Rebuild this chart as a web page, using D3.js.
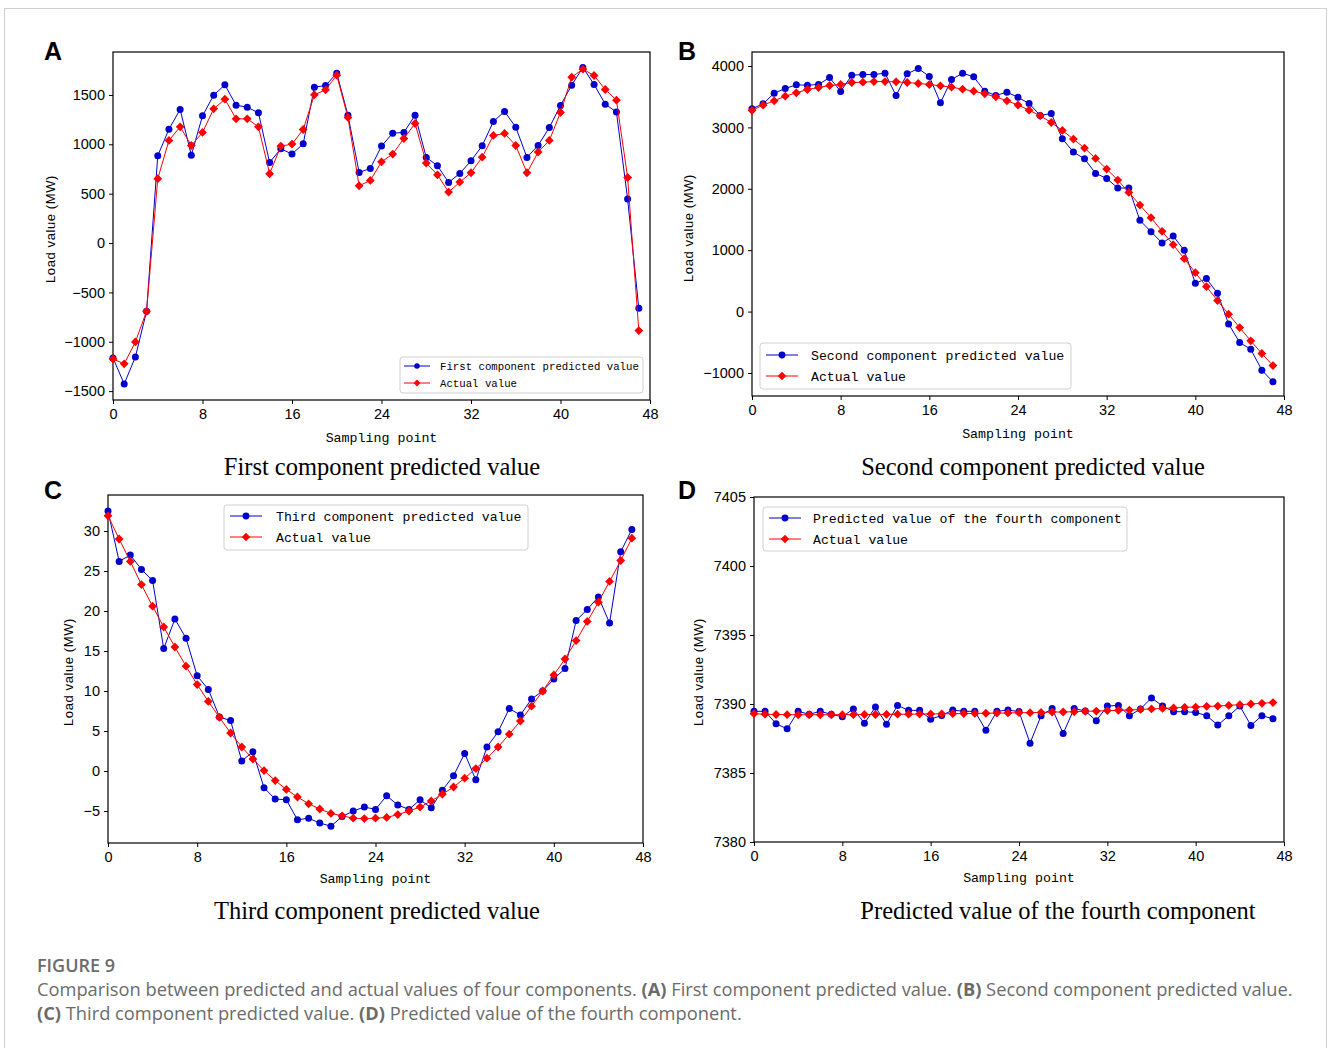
<!DOCTYPE html>
<html>
<head>
<meta charset="utf-8">
<script src="https://cdn.jsdelivr.net/npm/d3@7"></script>
<style>
  body { margin: 0; background: #fff; }
</style>
</head>
<body>
<svg id="fig" width="1328" height="1048"></svg>
<script>
// ---- data (48 sampling points each) ----
var predA = [-1165, -1427, -1154, -691, 884, 1153, 1353, 890, 1288, 1498, 1602, 1396, 1376, 1319, 816, 955,
             901, 1005, 1579, 1595, 1720, 1295, 715, 756, 982, 1113, 1120, 1295, 867, 783, 614, 705,
             833, 985, 1231, 1332, 1174, 867, 988, 1170, 1393, 1599, 1778, 1606, 1407, 1326, 445, -661];
var actualA = [-1174, -1224, -1002, -691, 651, 1039, 1177, 988, 1120, 1359, 1457, 1258, 1258, 1177, 702, 982,
               1002, 1150, 1501, 1552, 1700, 1272, 580, 634, 823, 901, 1059, 1211, 810, 691, 516, 617,
               712, 870, 1090, 1110, 988, 712, 921, 1039, 1322, 1680, 1761, 1697, 1555, 1447, 664, -887];

var predB = [3303, 3384, 3557, 3633, 3693, 3688, 3699, 3812, 3585, 3850, 3861, 3861, 3883, 3520, 3872, 3959,
             3829, 3400, 3780, 3883, 3823, 3590, 3520, 3574, 3490, 3389, 3194, 3227, 2815, 2598, 2489, 2251,
             2169, 2012, 2012, 1486, 1302, 1117, 1231, 998, 461, 537, 298, -201, -504, -613, -954, -1144];
var actualB = [3276, 3362, 3433, 3509, 3563, 3617, 3650, 3682, 3699, 3731, 3737, 3747, 3747, 3742, 3731, 3715,
               3699, 3677, 3655, 3623, 3590, 3547, 3498, 3433, 3365, 3281, 3189, 3080, 2950, 2809, 2663, 2495,
               2321, 2142, 1941, 1735, 1529, 1307, 1090, 862, 634, 407, 179, -43, -260, -477, -683, -879];

var predC = [32.5, 26.2, 27.0, 25.2, 23.8, 15.3, 19.0, 16.6, 11.9, 10.2, 6.75, 6.3, 1.25, 2.4, -2.1, -3.5,
             -3.6, -6.1, -5.9, -6.5, -6.9, -5.7, -5.0, -4.5, -4.8, -3.1, -4.25, -4.8, -3.6, -4.6, -2.4, -0.6,
             2.2, -1.1, 3.0, 4.9, 7.8, 7.0, 9.0, 10.0, 11.5, 12.8, 18.8, 20.2, 21.75, 18.5, 27.4, 30.2];
var actualC = [31.9, 29.0, 26.2, 23.3, 20.6, 18.0, 15.5, 13.1, 10.8, 8.7, 6.7, 4.75, 3.0, 1.5, 0.05, -1.2,
               -2.3, -3.25, -4.1, -4.75, -5.3, -5.6, -5.9, -5.95, -5.9, -5.8, -5.45, -5.0, -4.5, -3.75, -2.9, -2.0,
               -0.9, 0.3, 1.6, 3.0, 4.6, 6.25, 8.1, 10.0, 12.0, 14.0, 16.3, 18.7, 21.1, 23.7, 26.3, 29.1];

var predD = [7389.47, 7389.47, 7388.57, 7388.20, 7389.47, 7389.25, 7389.47, 7389.25, 7389.08, 7389.64, 7388.60, 7389.78,
             7388.54, 7389.90, 7389.54, 7389.54, 7388.90, 7389.17, 7389.56, 7389.47, 7389.47, 7388.10, 7389.47, 7389.56,
             7389.45, 7387.16, 7389.15, 7389.68, 7387.86, 7389.68, 7389.49, 7388.79, 7389.85, 7389.90, 7389.15, 7389.64,
             7390.44, 7389.85, 7389.44, 7389.44, 7389.39, 7389.15, 7388.47, 7389.15, 7389.85, 7388.45, 7389.15, 7388.93];
var actualD = [7389.30, 7389.26, 7389.24, 7389.23, 7389.22, 7389.22, 7389.22, 7389.22, 7389.23, 7389.23, 7389.24, 7389.24,
               7389.25, 7389.26, 7389.26, 7389.27, 7389.28, 7389.29, 7389.30, 7389.31, 7389.32, 7389.33, 7389.34, 7389.35,
               7389.37, 7389.37, 7389.39, 7389.42, 7389.42, 7389.44, 7389.47, 7389.49, 7389.52, 7389.54, 7389.56, 7389.61,
               7389.64, 7389.68, 7389.71, 7389.76, 7389.78, 7389.83, 7389.85, 7389.90, 7389.95, 7390.00, 7390.05, 7390.10];

var xTicks = [0, 8, 16, 24, 32, 40, 48];
var yTicksA = [-1500, -1000, -500, 0, 500, 1000, 1500];
var yTicksB = [-1000, 0, 1000, 2000, 3000, 4000];
var yTicksC = [-5, 0, 5, 10, 15, 20, 25, 30];
var yTicksD = [7380, 7385, 7390, 7395, 7400, 7405];

var captionHead = 'FIGURE 9';

var blue = '#0000cc', red = '#ff0000';
var monoFont = '"Liberation Mono", "DejaVu Sans Mono", monospace';
var sansFont = '"Liberation Sans", Arial, sans-serif';
var serifFont = '"Liberation Serif", "Times New Roman", serif';

var svg = d3.select('#fig');

// light frame around the figure
svg.append('rect')
    .attr('x', 4.5).attr('y', 8.5)
    .attr('width', 1322).attr('height', 1045)
    .attr('fill', 'none')
    .attr('stroke', '#cfcfcf');

function diamond(s) {
    return 'M0,' + (-s) + 'L' + s + ',0L0,' + s + 'L' + (-s) + ',0Z';
}

var tickFmt = d3.format('d');

function drawPanel(p) {
    var g = svg.append('g');
    var x = d3.scaleLinear().domain([0, 48]).range([p.left, p.right]);
    var y = d3.scaleLinear().domain(p.yDomain).range([p.bottom, p.top]);

    // axes
    var xa = g.append('g')
        .attr('transform', 'translate(0,' + p.bottom + ')')
        .call(d3.axisBottom(x).tickValues(xTicks).tickFormat(tickFmt)
            .tickSize(4).tickSizeOuter(0).tickPadding(5));
    var ya = g.append('g')
        .attr('transform', 'translate(' + p.left + ',0)')
        .call(d3.axisLeft(y).tickValues(p.yTicks).tickFormat(tickFmt)
            .tickSize(4).tickSizeOuter(0).tickPadding(4));
    [xa, ya].forEach(function(a) {
        a.select('.domain').remove();
        a.selectAll('text').style('font-family', sansFont).style('font-size', '14.5px').attr('fill', '#000');
        a.selectAll('line').attr('stroke', '#000');
    });

    // box
    g.append('rect')
        .attr('x', p.left).attr('y', p.top)
        .attr('width', p.right - p.left).attr('height', p.bottom - p.top)
        .attr('fill', 'none').attr('stroke', '#000').attr('stroke-width', 1.2);

    var line = d3.line().x(function(d, i) { return x(i); }).y(function(d) { return y(d); });

    g.append('path').attr('d', line(p.pred))
        .attr('fill', 'none').attr('stroke', blue).attr('stroke-width', 1);
    g.selectAll('.pt-pred').data(p.pred).enter().append('circle')
        .attr('cx', function(d, i) { return x(i); })
        .attr('cy', function(d) { return y(d); })
        .attr('r', 3.5).attr('fill', blue);

    g.append('path').attr('d', line(p.actual))
        .attr('fill', 'none').attr('stroke', red).attr('stroke-width', 1);
    g.selectAll('.pt-act').data(p.actual).enter().append('path')
        .attr('d', diamond(4.4))
        .attr('transform', function(d, i) { return 'translate(' + x(i) + ',' + y(d) + ')'; })
        .attr('fill', red);

    // legend
    var L = p.legend;
    var lg = g.append('g');
    lg.append('rect')
        .attr('x', L.x).attr('y', L.y).attr('width', L.w).attr('height', L.h)
        .attr('rx', 3).attr('fill', '#fff').attr('fill-opacity', 0.85)
        .attr('stroke', '#d0d0d0');
    [[p.predName, blue, 'c'], ['Actual value', red, 'd']].forEach(function(e, i) {
        var ry = L.rows[i];
        lg.append('line')
            .attr('x1', L.x + L.pad).attr('x2', L.x + L.pad + L.handle)
            .attr('y1', ry).attr('y2', ry)
            .attr('stroke', e[1]).attr('stroke-width', 1);
        if (e[2] === 'c') {
            lg.append('circle').attr('cx', L.x + L.pad + L.handle / 2).attr('cy', ry)
                .attr('r', L.fs * 0.26).attr('fill', e[1]);
        } else {
            lg.append('path').attr('d', diamond(L.fs * 0.32))
                .attr('transform', 'translate(' + (L.x + L.pad + L.handle / 2) + ',' + ry + ')')
                .attr('fill', e[1]);
        }
        lg.append('text')
            .attr('x', L.textX).attr('y', ry)
            .attr('dy', '0.35em')
            .style('font-family', monoFont).style('font-size', L.fs + 'px')
            .text(e[0]);
    });

    // labels
    g.append('text')
        .attr('x', (p.left + p.right) / 2).attr('y', p.xLabelY)
        .attr('text-anchor', 'middle').attr('dy', '0.35em')
        .style('font-family', monoFont).style('font-size', '13.3px')
        .text('Sampling point');
    g.append('text')
        .attr('transform', 'translate(' + p.yLabelX + ',' + p.yLabelMid + ') rotate(-90)')
        .attr('text-anchor', 'middle').attr('dy', '0.35em')
        .style('font-family', sansFont).style('font-size', '13px')
        .style('letter-spacing', '0.6px')
        .text('Load value (MW)');
    g.append('text')
        .attr('x', p.letterX).attr('y', p.letterY)
        .style('font-family', sansFont).style('font-size', '25px').style('font-weight', 'bold')
        .text(p.letter);
    g.append('text')
        .attr('x', p.titleX).attr('y', p.titleY)
        .attr('text-anchor', 'middle')
        .style('font-family', serifFont).style('font-size', '24.5px')
        .text(p.title);
}

drawPanel({
    pred: predA, actual: actualA, predName: 'First component predicted value',
    left: 113, right: 650, top: 52, bottom: 400,
    yDomain: [-1590, 1935], yTicks: yTicksA,
    legend: { x: 400, y: 357, w: 243, h: 36, rows: [366, 383], fs: 10.7, pad: 4, handle: 26, textX: 440 },
    xLabelY: 437, yLabelX: 50, yLabelMid: 229,
    letter: 'A', letterX: 44, letterY: 60,
    title: 'First component predicted value', titleX: 382, titleY: 475
});

drawPanel({
    pred: predB, actual: actualB, predName: 'Second component predicted value',
    left: 752, right: 1284, top: 52, bottom: 396,
    yDomain: [-1375, 4228], yTicks: yTicksB,
    legend: { x: 760, y: 343, w: 311, h: 46, rows: [355, 376], fs: 13.2, pad: 6, handle: 32, textX: 811 },
    xLabelY: 433, yLabelX: 688, yLabelMid: 228,
    letter: 'B', letterX: 678, letterY: 60,
    title: 'Second component predicted value', titleX: 1033, titleY: 475
});

drawPanel({
    pred: predC, actual: actualC, predName: 'Third component predicted value',
    left: 108, right: 643, top: 495, bottom: 843,
    yDomain: [-9, 34.5], yTicks: yTicksC,
    legend: { x: 224, y: 505, w: 304, h: 45, rows: [516, 537], fs: 13.2, pad: 6, handle: 32, textX: 276 },
    xLabelY: 878, yLabelX: 68, yLabelMid: 672,
    letter: 'C', letterX: 44, letterY: 499,
    title: 'Third component predicted value', titleX: 377, titleY: 919
});

drawPanel({
    pred: predD, actual: actualD, predName: 'Predicted value of the fourth component',
    left: 754, right: 1284, top: 497, bottom: 842,
    yDomain: [7380, 7405], yTicks: yTicksD,
    legend: { x: 763, y: 507, w: 364, h: 44, rows: [518, 539], fs: 13.2, pad: 6, handle: 32, textX: 813 },
    xLabelY: 877, yLabelX: 698, yLabelMid: 672,
    letter: 'D', letterX: 678, letterY: 499,
    title: 'Predicted value of the fourth component', titleX: 1058, titleY: 919
});

// caption
var cap = svg.append('g').style('font-family', '"Open Sans", "Noto Sans", sans-serif').attr('fill', '#6b6b6b');
cap.append('text').attr('x', 37).attr('y', 972)
    .style('font-size', '18px').style('font-weight', 600)
    .text(captionHead);
var l1 = cap.append('text').attr('x', 37).attr('y', 996).style('font-size', '18.3px');
l1.append('tspan').text('Comparison between predicted and actual values of four components. ');
l1.append('tspan').style('font-weight', 700).text('(A)');
l1.append('tspan').text(' First component predicted value. ');
l1.append('tspan').style('font-weight', 700).text('(B)');
l1.append('tspan').text(' Second component predicted value.');
var l2 = cap.append('text').attr('x', 37).attr('y', 1020).style('font-size', '18.3px');
l2.append('tspan').style('font-weight', 700).text('(C)');
l2.append('tspan').text(' Third component predicted value. ');
l2.append('tspan').style('font-weight', 700).text('(D)');
l2.append('tspan').text(' Predicted value of the fourth component.');
</script>
</body>
</html>
